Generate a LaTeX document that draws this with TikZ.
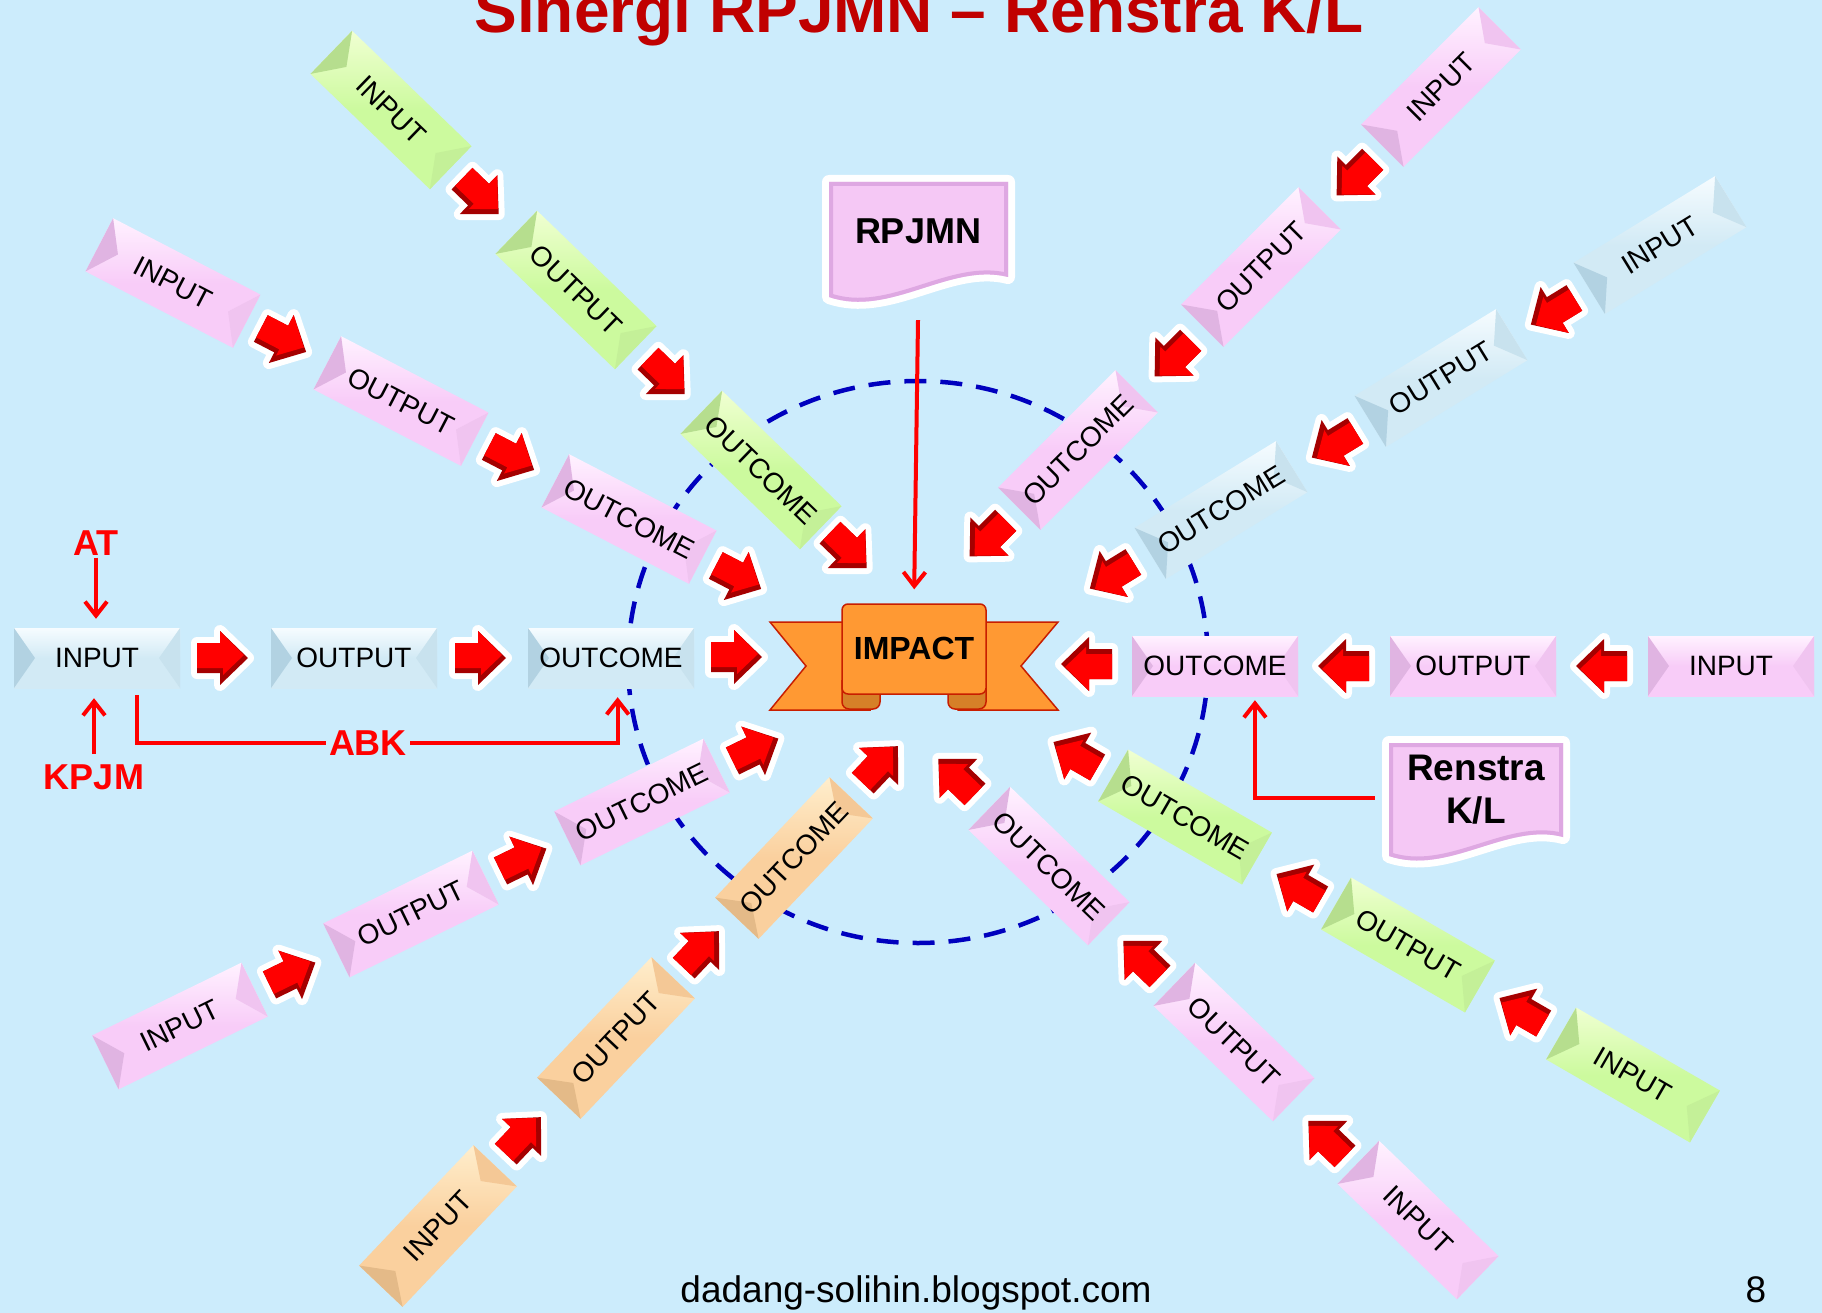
\documentclass[tikz,border=0pt]{standalone}
\usepackage{fontspec}
\setmainfont{Liberation Sans}
\usetikzlibrary{arrows.meta,calc}

\definecolor{bg}{RGB}{204,236,252}
\definecolor{titlered}{RGB}{192,0,0}
\definecolor{blueB}{RGB}{210,234,245}
\definecolor{blueL}{RGB}{246,252,255}
\definecolor{blueD}{RGB}{178,210,226}
\definecolor{blueM}{RGB}{200,226,238}
\definecolor{pinkB}{RGB}{248,204,248}
\definecolor{pinkL}{RGB}{255,242,255}
\definecolor{pinkD}{RGB}{224,180,226}
\definecolor{pinkM}{RGB}{240,196,240}
\definecolor{greenB}{RGB}{204,250,158}
\definecolor{greenL}{RGB}{240,255,210}
\definecolor{greenD}{RGB}{182,222,142}
\definecolor{greenM}{RGB}{196,240,152}
\definecolor{orangeB}{RGB}{250,208,158}
\definecolor{orangeL}{RGB}{255,238,204}
\definecolor{orangeD}{RGB}{228,186,136}
\definecolor{orangeM}{RGB}{244,200,150}
\definecolor{arrR}{RGB}{255,0,0}
\definecolor{arrD}{RGB}{165,0,0}
\definecolor{ribbon}{RGB}{255,153,51}
\definecolor{ribbonD}{RGB}{214,128,40}
\definecolor{ribbonE}{RGB}{200,30,0}
\definecolor{docB}{RGB}{245,200,245}
\definecolor{docD}{RGB}{222,168,226}
\definecolor{circ}{RGB}{0,0,190}

\tikzset{
  boxlbl/.style={minimum width=166pt, minimum height=60pt, inner sep=0pt,
    font=\fontsize{28}{30}\selectfont, text=black},
  redline/.style={draw=arrR, line width=4pt},
  redtip/.style={-{Straight Barb[length=14pt,width=22pt]}},
  redlbl/.style={text=arrR, font=\bfseries\fontsize{36}{40}\selectfont, inner sep=2pt},
  barrow/.pic={
    \draw[white, line width=12pt, line join=round] (-25,-15) -- (-2,-15) -- (-2,-27) -- (26,0) -- (-2,27) -- (-2,15) -- (-25,15) -- cycle;
    \fill[arrD] (-25,-15) -- (-2,-15) -- (-2,-27) -- (26,0) -- (-2,27) -- (-2,15) -- (-25,15) -- cycle;
    \fill[arrR] (-25,-15) -- (-2,-15) -- (-2,-27) -- (22,-3) -- (1,17) -- (1,10) -- (-25,10) -- cycle;
  }
}

\newcommand\bevbox[6]{%
  \begin{scope}[shift={(#2,#3)},rotate=#4]
    \shade[top color=#5L, bottom color=#5B, middle color=#5B] (-83,-30) rectangle (83,30);
    \fill[#5D] (-83,-30) -- (-62,0) -- (-83,30) -- cycle;
    \fill[#5M] (83,-30) -- (62,0) -- (83,30) -- cycle;
  \end{scope}
  \node[boxlbl,rotate=#4] (#1) at (#2,#3) {#6};
}
\newcommand\barr[3]{\path (#1,#2) pic[rotate=#3] {barrow};}

\begin{document}
\begin{tikzpicture}[x=1pt,y=-1pt]
\useasboundingbox (0,0) rectangle (1822,1313);
\fill[bg] (0,0) rectangle (1822,1313);

% dashed circle
\draw[circ, line width=4.5pt, dash pattern=on 22pt off 14pt] (918,662) ellipse [x radius=290, y radius=281];

% title and footer
\node[anchor=base, text=titlered, font=\bfseries\fontsize{64}{70}\selectfont, inner sep=0] (title) at (919,33) {Sinergi RPJMN – Renstra K/L};
\node[anchor=base, font=\fontsize{37}{40}\selectfont, inner sep=0] (url) at (916,1302) {dadang-solihin.blogspot.com};
\node[anchor=base, font=\fontsize{37}{40}\selectfont, inner sep=0] (pg) at (1756,1302) {8};

% RPJMN document
\draw[white, line width=14pt, line join=round] (829,182) -- (1008,182) -- (1008,277) .. controls (950,262) and (890,318) .. (829,297) -- cycle;
\fill[docB] (829,182) -- (1008,182) -- (1008,277) .. controls (950,262) and (890,318) .. (829,297) -- cycle;
\begin{scope}
  \clip (829,182) -- (1008,182) -- (1008,277) .. controls (950,262) and (890,318) .. (829,297) -- cycle;
  \draw[docD, line width=8pt] (829,182) -- (1008,182) -- (1008,277) .. controls (950,262) and (890,318) .. (829,297) -- cycle;
\end{scope}
\node[minimum width=179pt, minimum height=118pt, inner sep=0pt] (rp) at (918,241) {};
\node[font=\bfseries\fontsize{36}{40}\selectfont] (rptxt) at (918,231) {RPJMN};

% Renstra document
\draw[white, line width=14pt, line join=round] (1389,743) -- (1563,743) -- (1563,837) .. controls (1507,822) and (1448,876) .. (1389,856) -- cycle;
\fill[docB] (1389,743) -- (1563,743) -- (1563,837) .. controls (1507,822) and (1448,876) .. (1389,856) -- cycle;
\begin{scope}
  \clip (1389,743) -- (1563,743) -- (1563,837) .. controls (1507,822) and (1448,876) .. (1389,856) -- cycle;
  \draw[docD, line width=8pt] (1389,743) -- (1563,743) -- (1563,837) .. controls (1507,822) and (1448,876) .. (1389,856) -- cycle;
\end{scope}
\node[minimum width=174pt, minimum height=112pt, inner sep=0pt] (rk) at (1476,798) {};
\node[font=\bfseries\fontsize{37}{43}\selectfont, align=center] (rktxt) at (1476,790) {Renstra\\K/L};

% IMPACT ribbon
\filldraw[fill=ribbon, draw=ribbonE, line width=1.5pt] (770,622) -- (870,622) -- (870,710) -- (770,710) -- (806,666) -- cycle;
\filldraw[fill=ribbon, draw=ribbonE, line width=1.5pt] (1058,622) -- (958,622) -- (958,710) -- (1058,710) -- (1021,666) -- cycle;
\filldraw[fill=ribbonD, draw=ribbonE, line width=1.5pt, rounded corners=7pt] (842,680) -- (842,709) -- (880,709) -- (880,680);
\filldraw[fill=ribbonD, draw=ribbonE, line width=1.5pt, rounded corners=7pt] (986,680) -- (986,709) -- (948,709) -- (948,680);
\filldraw[fill=ribbon, draw=ribbonE, line width=1.5pt, rounded corners=6pt] (842,694) -- (842,604) -- (986,604) -- (986,694) -- cycle;
\node[minimum width=144pt, minimum height=89pt, inner sep=0pt, font=\bfseries\fontsize{32}{36}\selectfont] (impact) at (914,648) {IMPACT};

% Arm 1: left (blue)
\bevbox{in1}{97}{658}{0}{blue}{INPUT}
\bevbox{op1}{354}{658}{0}{blue}{OUTPUT}
\bevbox{oc1}{611}{658}{0}{blue}{OUTCOME}
\barr{222}{658}{0} \barr{480}{658}{0} \barr{736}{657}{0}

% Arm 2: right (pink)
\bevbox{in2}{1731}{666}{0}{pink}{INPUT}
\bevbox{op2}{1473}{666}{0}{pink}{OUTPUT}
\bevbox{oc2}{1215}{666}{0}{pink}{OUTCOME}
\barr{1602}{666}{180} \barr{1344}{666}{180} \barr{1087}{664}{180}

% Arm 3: upper-left steep (green)
\bevbox{in3}{391}{110}{-44}{green}{INPUT}
\bevbox{op3}{576}{290}{-44}{green}{OUTPUT}
\bevbox{oc3}{761}{470}{-44}{green}{OUTCOME}
\barr{480}{196}{-44} \barr{666}{376}{-44} \barr{848}{550}{-44}

% Arm 4: upper-left shallow (pink)
\bevbox{in4}{173}{283}{-27.4}{pink}{INPUT}
\bevbox{op4}{401}{401}{-27.4}{pink}{OUTPUT}
\bevbox{oc4}{629}{519}{-27.4}{pink}{OUTCOME}
\barr{283}{340}{-27.4} \barr{511}{458}{-27.4} \barr{738}{577}{-27.4}

% Arm 5: upper-right steep (pink)
\bevbox{in5}{1441}{87}{45}{pink}{INPUT}
\bevbox{op5}{1261}{267}{45}{pink}{OUTPUT}
\bevbox{oc5}{1078}{450}{45}{pink}{OUTCOME}
\barr{1355}{177}{-135} \barr{1173}{358}{-135} \barr{988}{538}{-135}

% Arm 6: upper-right shallow (blue)
\bevbox{in6}{1660}{245}{31.5}{blue}{INPUT}
\bevbox{op6}{1441}{378}{31.5}{blue}{OUTPUT}
\bevbox{oc6}{1221}{510}{31.5}{blue}{OUTCOME}
\barr{1553}{311}{-148.5} \barr{1334}{444}{-148.5} \barr{1112}{575}{-148.5}

% Arm 7: lower-left shallow (pink)
\bevbox{in7}{180}{1026}{26}{pink}{INPUT}
\bevbox{op7}{411}{914}{26}{pink}{OUTPUT}
\bevbox{oc7}{642}{802}{26}{pink}{OUTCOME}
\barr{292}{974}{26} \barr{523}{860}{26} \barr{755}{750}{26}

% Arm 8: lower-left steep (orange)
\bevbox{in8}{438}{1226}{46.5}{orange}{INPUT}
\bevbox{op8}{616}{1038}{46.5}{orange}{OUTPUT}
\bevbox{oc8}{794}{858}{46.5}{orange}{OUTCOME}
\barr{523}{1136}{46.5} \barr{701}{950}{46.5} \barr{880}{765}{46.5}

% Arm 9: lower-right steep (pink)
\bevbox{in9}{1418}{1220}{-44}{pink}{INPUT}
\bevbox{op9}{1234}{1042}{-44}{pink}{OUTPUT}
\bevbox{oc9}{1049}{866}{-44}{pink}{OUTCOME}
\barr{1327}{1139}{136} \barr{1142}{959}{136} \barr{957}{777}{136}

% Arm 10: lower-right shallow (green)
\bevbox{in10}{1633}{1075}{-30}{green}{INPUT}
\bevbox{op10}{1408}{945}{-30}{green}{OUTPUT}
\bevbox{oc10}{1185}{817}{-30}{green}{OUTCOME}
\barr{1522}{1011}{150} \barr{1299}{887}{150} \barr{1076}{755}{150}

% red annotations
\node[redlbl] (AT) at (96,543) {AT};
\node[redlbl] (KPJM) at (94,777) {KPJM};
\node[redlbl, inner sep=3pt] (ABK) at (368,743) {ABK};
\draw[redline, redtip, shorten >=9pt] (AT.south) -- (AT.south |- in1.north);
\draw[redline, redtip, shorten <=8pt, shorten >=10pt] (KPJM.north) -- (KPJM.north |- in1.south);
\draw[redline] ($(in1.south west)!0.74!(in1.south east)+(0,7)$) |- (ABK.west);
\draw[redline, redtip, shorten >=9pt] (ABK.east) -| ($(oc1.south west)!0.54!(oc1.south east)$);
\draw[redline, redtip, shorten >=14pt] ($(rp.south)+(0,20)$) -- (impact.north);
\draw[redline, redtip, shorten >=4pt] ($(rk.west)+(-14,0)$) -| ($(oc2.south west)!0.74!(oc2.south east)$);
\end{tikzpicture}
\end{document}
